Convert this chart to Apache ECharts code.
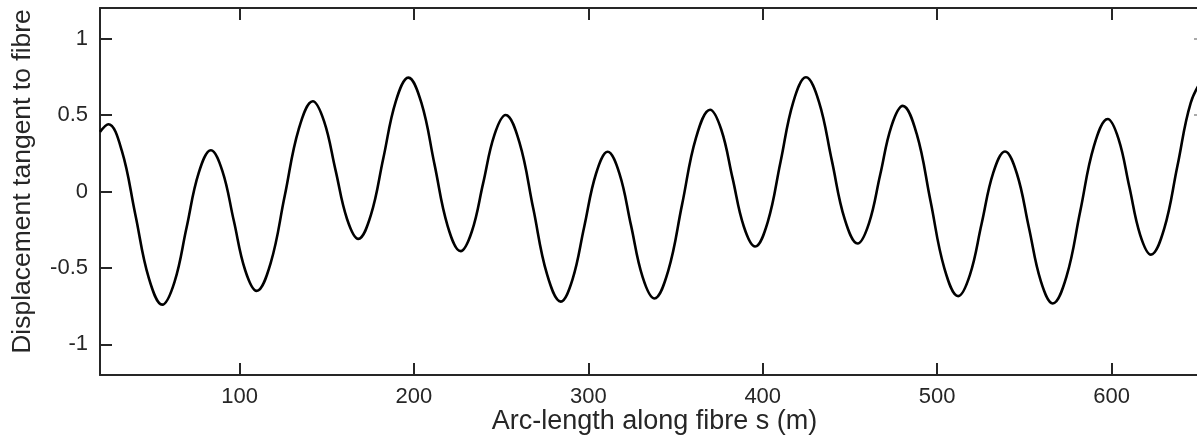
<!DOCTYPE html>
<html>
<head>
<meta charset="utf-8">
<script src="https://cdn.jsdelivr.net/npm/echarts@6/dist/echarts.min.js"></script>
<style>
html,body{margin:0;padding:0;background:#fff;}
#chart{width:1197px;height:437px;}
</style>
</head>
<body>
<div id="chart"></div>
<script>
// Arc-length positions (m)
const arcLength = [20, 24.8, 32.5, 40.25, 48.0, 55.7, 62.7, 69.65, 76.6, 83.6, 90.15, 96.7, 103.25, 109.8, 117.85, 125.9, 133.95, 142.0, 148.5, 155.05, 161.6, 168.1, 175.3, 182.45, 189.6, 196.8, 204.3, 211.8, 219.3, 226.8, 233.25, 239.7, 246.15, 252.6, 260.5, 268.4, 276.3, 284.2, 290.9, 297.65, 304.4, 311.1, 317.8, 324.45, 331.1, 337.8, 345.8, 353.8, 361.8, 369.8, 376.25, 382.7, 389.15, 395.6, 402.9, 410.2, 417.5, 424.8, 432.2, 439.6, 447.0, 454.4, 460.9, 467.35, 473.8, 480.3, 488.25, 496.2, 504.15, 512.1, 518.8, 525.5, 532.2, 538.9, 545.75, 552.6, 559.45, 566.3, 574.2, 582.05, 589.9, 597.8, 604.0, 610.2, 616.4, 622.6, 630.2, 637.8, 645.4, 653.0];
// Displacement tangent to fibre
const displacement = [0.39, 0.44, 0.267, -0.15, -0.567, -0.74, -0.592, -0.235, 0.122, 0.27, 0.135, -0.19, -0.515, -0.65, -0.468, -0.03, 0.408, 0.59, 0.458, 0.14, -0.178, -0.31, -0.155, 0.2175, 0.59, 0.745, 0.579, 0.1775, -0.224, -0.39, -0.26, 0.055, 0.37, 0.50, 0.321, -0.11, -0.541, -0.72, -0.576, -0.23, 0.116, 0.26, 0.119, -0.22, -0.559, -0.70, -0.519, -0.0825, 0.354, 0.535, 0.404, 0.0875, -0.229, -0.36, -0.198, 0.1935, 0.585, 0.747, 0.588, 0.2035, -0.181, -0.34, -0.208, 0.11, 0.428, 0.56, 0.378, -0.062, -0.502, -0.684, -0.545, -0.211, 0.123, 0.262, 0.116, -0.235, -0.586, -0.732, -0.555, -0.129, 0.297, 0.474, 0.344, 0.0305, -0.283, -0.413, -0.243, 0.1685, 0.58, 0.75];
const xTicks = [100, 200, 300, 400, 500, 600];
const yTicks = [-1, -0.5, 0, 0.5, 1];

const FONT = 'Liberation Sans';
const AX = '#262626';
const seriesData = arcLength.map((x, i) => [x, displacement[i]]);

const chart = echarts.init(document.getElementById('chart'), null, {renderer: 'canvas'});
chart.setOption({
  animation: false,
  backgroundColor: '#ffffff',
  grid: {left: 100, right: 0, top: 8, bottom: 62, containLabel: false, outerBoundsMode: 'none'},
  xAxis: [{
    type: 'value', min: 20, max: 649, position: 'bottom',
    name: 'Arc-length along fibre s (m)', nameLocation: 'middle', nameGap: 33, nameMoveOverlap: false,
    nameTextStyle: {fontFamily: FONT, fontSize: 27, color: AX, padding: [0, 0, 0, 12]},
    axisLine: {show: true, onZero: false, lineStyle: {color: AX, width: 2}},
    axisTick: {show: true, inside: true, length: 12, customValues: xTicks, lineStyle: {color: AX, width: 2}},
    axisLabel: {show: true, customValues: xTicks, margin: 11, fontFamily: FONT, fontSize: 22, color: AX},
    splitLine: {show: false}
  }, {
    type: 'value', min: 20, max: 649, position: 'top',
    axisLine: {show: true, onZero: false, lineStyle: {color: AX, width: 2}},
    axisTick: {show: true, inside: true, length: 12, customValues: xTicks, lineStyle: {color: AX, width: 2}},
    axisLabel: {show: false},
    splitLine: {show: false}
  }],
  yAxis: [{
    type: 'value', min: -1.2, max: 1.2, position: 'left',
    name: 'Displacement tangent to fibre', nameLocation: 'middle', nameGap: 64, nameMoveOverlap: false,
    nameTextStyle: {fontFamily: FONT, fontSize: 26.5, color: AX, padding: [0, 0, 0, 20]},
    axisLine: {show: true, onZero: false, lineStyle: {color: AX, width: 2}},
    axisTick: {show: true, inside: true, length: 12, customValues: yTicks, lineStyle: {color: AX, width: 2}},
    axisLabel: {show: true, customValues: yTicks, margin: 12, fontFamily: FONT, fontSize: 22, color: AX},
    splitLine: {show: false}
  }, {
    type: 'value', min: -1.2, max: 1.2, position: 'right',
    axisLine: {show: false},
    axisTick: {show: true, inside: true, length: 3, customValues: [0.5, 1], lineStyle: {color: '#aaa', width: 2}},
    axisLabel: {show: false},
    splitLine: {show: false}
  }],
  series: [{
    type: 'line',
    data: seriesData,
    xAxisIndex: 0, yAxisIndex: 0,
    smooth: 0.4,
    showSymbol: false,
    lineStyle: {color: '#000', width: 2.6},
    clip: true
  }]
});
</script>
</body>
</html>
